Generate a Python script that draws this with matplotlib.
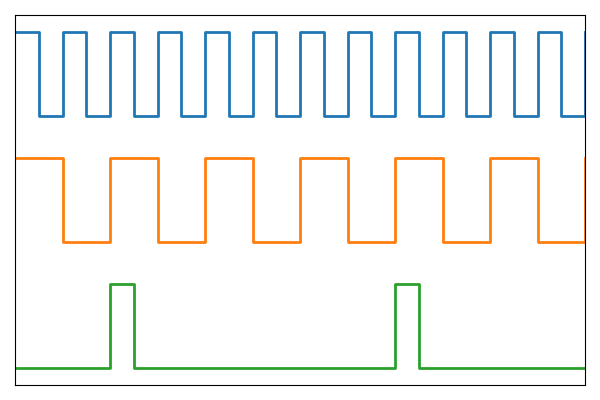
import numpy as np
import matplotlib.pyplot as plt

# sample index (clock ticks)
t = list(range(25))

# clock, clock/2 and a pulse every 12 ticks, stacked with offsets
clk = [4, 3, 4, 3, 4, 3, 4, 3, 4, 3, 4, 3, 4, 3, 4, 3, 4, 3, 4, 3, 4, 3, 4, 3, 4]
div2 = [2.5, 2.5, 1.5, 1.5, 2.5, 2.5, 1.5, 1.5, 2.5, 2.5, 1.5, 1.5, 2.5,
        2.5, 1.5, 1.5, 2.5, 2.5, 1.5, 1.5, 2.5, 2.5, 1.5, 1.5, 2.5]
pulse = [0, 0, 0, 0, 1, 0, 0, 0, 0, 0, 0, 0, 0,
         0, 0, 0, 1, 0, 0, 0, 0, 0, 0, 0, 0]


def main():
    fig = plt.figure(figsize=(6, 4), dpi=100)
    ax = fig.add_axes([0.025, 0.0375, 0.95, 0.925])

    for sinal in (clk, div2, pulse):
        ax.step(t, sinal, where='post', linewidth=2)

    ax.set_xlim(t[0], t[-1])
    ax.set_ylim(-0.2, 4.2)
    ax.set_xticks([])
    ax.set_yticks([])

    fig.savefig('out.png', dpi=100)


if __name__ == "__main__":
    main()
